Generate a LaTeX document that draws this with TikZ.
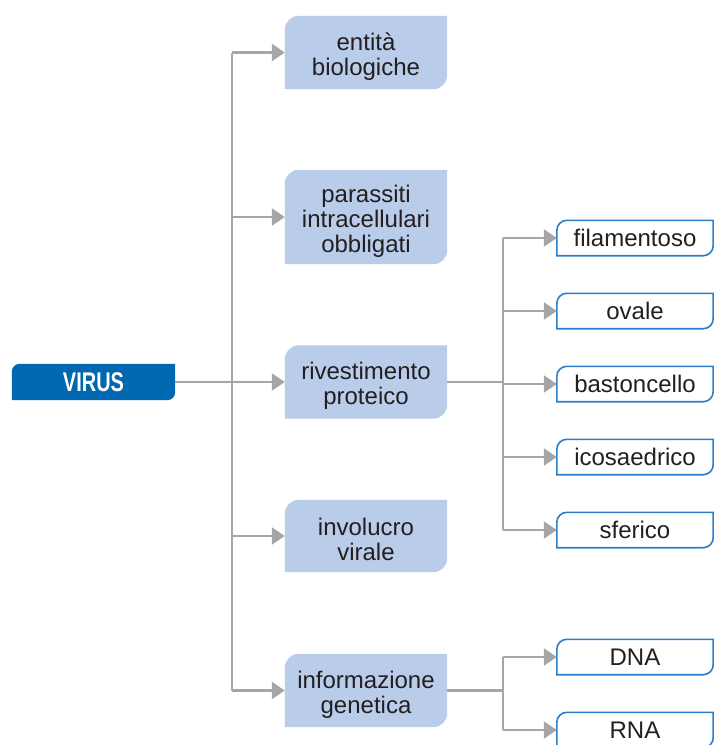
\documentclass[tikz,border=0pt]{standalone}
\usepackage{fontspec}
\usepackage{graphicx}
\setmainfont{Liberation Sans}
\usetikzlibrary{arrows.meta,backgrounds}
\definecolor{lightbox}{RGB}{185,204,234}
\definecolor{virusblue}{RGB}{0,103,177}
\definecolor{edgeblue}{RGB}{45,125,200}
\definecolor{linegray}{RGB}{166,166,166}
\definecolor{textdark}{RGB}{35,31,32}
\newcommand\cutbox[3]{%
  \path[#1] (#2.south west) -- ([yshift=-#3]#2.north west)
    arc[start angle=180,end angle=90,radius=#3] -- (#2.north east)
    -- ([yshift=#3]#2.south east)
    arc[start angle=0,end angle=-90,radius=#3] -- cycle;}
\newcommand\topstrut{\rule{0pt}{25pt}}
\begin{document}
\begin{tikzpicture}[x=1pt,y=1pt,
  mainbox/.style={minimum width=162pt,inner sep=0pt,align=center,text=textdark,
    font=\fontsize{24}{25}\selectfont},
  leafbox/.style={minimum width=156pt,minimum height=35pt,inner sep=0pt,text=textdark,
    font=\fontsize{24}{25}\selectfont},
  conn/.style={draw=linegray,line width=2.5pt},
  arr/.style={conn,-{Triangle[length=13pt,width=17pt]}}]
\useasboundingbox (0,0) rectangle (714,-745);
% main root
\node[minimum width=163pt,minimum height=36pt,inner sep=0pt,text=white] (virus) at (93.5,-382)
  {\scalebox{0.74}[1]{\fontsize{27}{27}\selectfont\bfseries VIRUS}};
% category boxes
\node[mainbox,minimum height=73pt] (a) at (366,-52.5) {\topstrut entità\\biologiche};
\node[mainbox,minimum height=94pt] (b) at (366,-217) {\topstrut parassiti\\intracellulari\\obbligati};
\node[mainbox,minimum height=73pt] (c) at (366,-382) {\topstrut rivestimento\\proteico};
\node[mainbox,minimum height=72pt] (d) at (366,-536) {\topstrut involucro\\virale};
\node[mainbox,minimum height=73pt] (e) at (366,-690.5) {\topstrut informazione\\genetica};
% leaf boxes
\node[leafbox] (f1) at (635,-238) {filamentoso};
\node[leafbox] (f2) at (635,-311) {ovale};
\node[leafbox] (f3) at (635,-384) {bastoncello};
\node[leafbox] (f4) at (635,-457) {icosaedrico};
\node[leafbox] (f5) at (635,-530) {sferico};
\node[leafbox] (g1) at (635,-657) {DNA};
\node[leafbox] (g2) at (635,-730) {RNA};
\coordinate (v) at (232,-382);
\coordinate (w) at (503,-382);
\begin{scope}[on background layer]
  \cutbox{fill=virusblue}{virus}{8pt}
  \foreach \n in {a,b,c,d,e}{\cutbox{fill=lightbox}{\n}{14pt}}
  \foreach \n in {f1,f2,f3,f4,f5,g1,g2}{\cutbox{fill=white,draw=edgeblue,line width=1.6pt}{\n}{10pt}}
  % left tree
  \draw[conn] (v|-a.west) -- (v|-e.west);
  \foreach \n in {a,b,d,e}{\draw[arr] (v|-\n.west) -- (\n.west);}
  \draw[arr] (virus.east) -- (c.west);
  % rivestimento tree
  \draw[conn] (c.east) -- (w|-c.east);
  \draw[conn] (w|-f1.west) -- (w|-f5.west);
  \foreach \n in {f1,f2,f3,f4,f5}{\draw[arr] (w|-\n.west) -- (\n.west);}
  % informazione tree
  \draw[conn] (e.east) -- (w|-e.east);
  \draw[conn] (w|-g1.west) -- (w|-g2.west);
  \foreach \n in {g1,g2}{\draw[arr] (w|-\n.west) -- (\n.west);}
\end{scope}
\end{tikzpicture}
\end{document}
